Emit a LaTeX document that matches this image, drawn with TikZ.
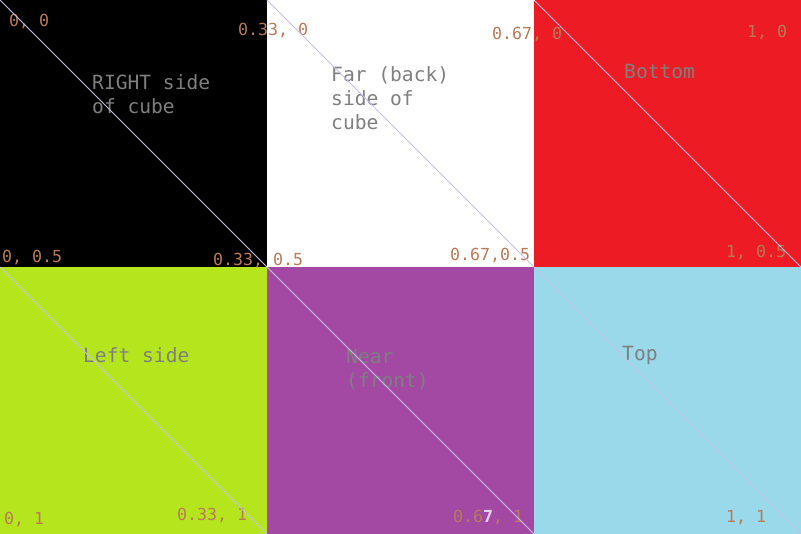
\documentclass[tikz,border=0pt]{standalone}
\usepackage{fontspec}
\setmonofont{DejaVu Sans Mono}

\definecolor{paintred}{HTML}{ED1C24}
\definecolor{paintlime}{HTML}{B5E61D}
\definecolor{paintpurple}{HTML}{A349A4}
\definecolor{paintblue}{HTML}{99D9EA}
\definecolor{paintbrown}{HTML}{B97A57}
\definecolor{paintgray}{HTML}{7F7F7F}
\definecolor{paintlav}{HTML}{C8BFE7}
\definecolor{paintlavlight}{HTML}{DCD6F0}

\tikzset{
  facelabel/.style={inner sep=0pt, anchor=base west, align=left, text=paintgray,
    font=\ttfamily\fontsize{19.6}{24}\selectfont},
  uvlabel/.style={inner sep=0pt, anchor=base west, text=paintbrown,
    font=\ttfamily\fontsize{16.6}{20}\selectfont},
  diag/.style={draw=paintlav, line width=0.9pt},
}

\begin{document}
\begin{tikzpicture}[x=1pt,y=-1pt]
\useasboundingbox (0,0) rectangle (801,534);
% the six faces
\fill[black] (0,0) rectangle (267,267);
\fill[white] (267,0) rectangle (534,267);
\fill[paintred] (534,0) rectangle (801,267);
\fill[paintlime] (0,267) rectangle (267,534);
\fill[paintpurple] (267,267) rectangle (534,534);
\fill[paintblue] (534,267) rectangle (801,534);
% face names (base = last line)
\node[facelabel] (right) at (92,114) {RIGHT side\\of cube};
\node[facelabel] (far) at (331,130) {Far (back)\\side of\\cube};
\node[facelabel] (bottom) at (624,79) {Bottom};
\node[facelabel] (left) at (83,363) {Left side};
\node[facelabel] (near) at (346,388) {Near\\(front)};
\node[facelabel] (top) at (622,361) {Top};
% texture coordinates
\node[uvlabel] (uv00) at (9,27) {0, 0};
\node[uvlabel] (uv330) at (238,36) {0.33, 0};
\node[uvlabel] (uv670) at (492,40) {0.67, 0};
\node[uvlabel] (uv10) at (747,38) {1, 0};
\node[uvlabel] (uv05) at (2,263) {0, 0.5};
\node[uvlabel] (uv335) at (213,266) {0.33, 0.5};
\node[uvlabel] (uv675) at (450,261) {0.67,0.5};
\node[uvlabel] (uv15) at (726,258) {1, 0.5};
\node[uvlabel] (uv01) at (4,525) {0, 1};
\node[uvlabel] (uv331) at (177,521) {0.33, 1};
\node[uvlabel] (uv671) at (453,522) {0.6{\bfseries\color{paintlavlight}7}, 1};
\node[uvlabel] (uv11) at (726,522) {1, 1};
% diagonals
\draw[diag] (0,0) -- (267,267);
\draw[diag] (267,0) -- (534,267);
\draw[diag] (534,0) -- (801,267);
\draw[diag] (0,267) -- (267,534);
\draw[diag] (267,267) -- (534,534);
\draw[diag] (534,267) -- (801,534);
\end{tikzpicture}
\end{document}
